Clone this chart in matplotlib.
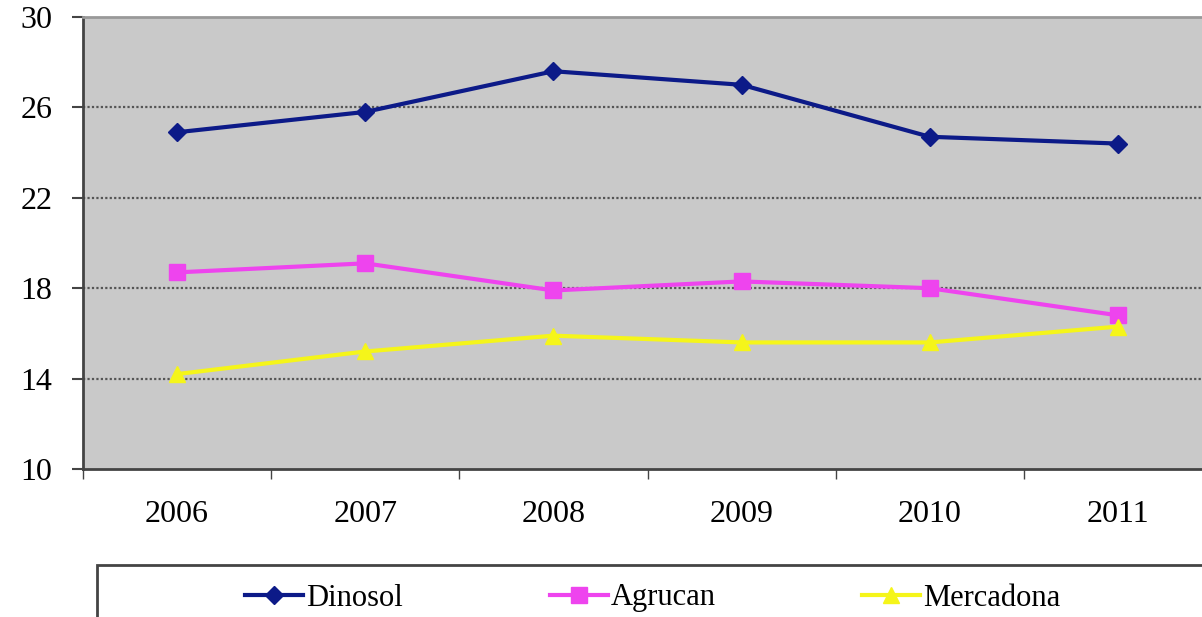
import matplotlib.pyplot as plt
from matplotlib.patches import Rectangle

plt.rcParams['font.family'] = ['Liberation Serif', 'DejaVu Serif']

years = ['2006', '2007', '2008', '2009', '2010', '2011']
dinosol = [24.9, 25.8, 27.6, 27.0, 24.7, 24.4]
agrucan = [18.7, 19.1, 17.9, 18.3, 18.0, 16.8]
mercadona = [14.2, 15.2, 15.9, 15.6, 15.6, 16.3]

fig = plt.figure(figsize=(12.02, 6.17), dpi=100)
ax = fig.add_axes([83 / 1202, 1 - 469 / 617, 1129 / 1202, 452 / 617])
ax.set_facecolor('#c9c9c9')

x = range(len(years))
ax.plot(x, dinosol, color='#0c1a88', lw=3, marker='D', ms=9, label='Dinosol')
ax.plot(x, agrucan, color='#ee44ee', lw=3, marker='s', ms=11, label='Agrucan')
ax.plot(x, mercadona, color='#f5f51a', lw=3, marker='^', ms=11, label='Mercadona')

ax.set_xlim(-0.5, 5.5)
ax.set_ylim(10, 30)
ax.set_yticks([10, 14, 18, 22, 26, 30])
ax.set_xticks(list(x))
ax.set_xticklabels(years)
ax.set_xticks([i + 0.5 for i in range(-1, 6)], minor=True)
ax.tick_params(axis='x', which='major', length=0, pad=22, labelsize=23)
ax.tick_params(axis='x', which='minor', length=7, width=1, color='#444444')
ax.tick_params(axis='y', length=8, width=1.5, color='#444444', labelsize=23, pad=14)

for v in [14, 18, 22, 26]:
    ax.axhline(v, color='#555555', lw=1.6, ls=(0, (1, 1)), zorder=0.5)

for side in ['left', 'bottom']:
    ax.spines[side].set_color('#444444')
    ax.spines[side].set_linewidth(2)
ax.spines['top'].set_color('#999999')
ax.spines['top'].set_linewidth(2)
ax.spines['right'].set_visible(False)

# legend box running past the bottom-right of the picture
fig.patches.append(Rectangle((97 / 1202, -0.05), 1.1, 1 - 565 / 617 + 0.05,
                             transform=fig.transFigure, fill=False,
                             edgecolor='#444444', lw=2))
fig.legend(loc='center left', bbox_to_anchor=(245 / 1202, 1 - 598 / 617),
           ncol=3, frameon=False, fontsize=22, handlelength=1.9,
           handletextpad=0.1, columnspacing=4.8, borderaxespad=0,
           borderpad=0)

fig.savefig('out.png', dpi=100)
